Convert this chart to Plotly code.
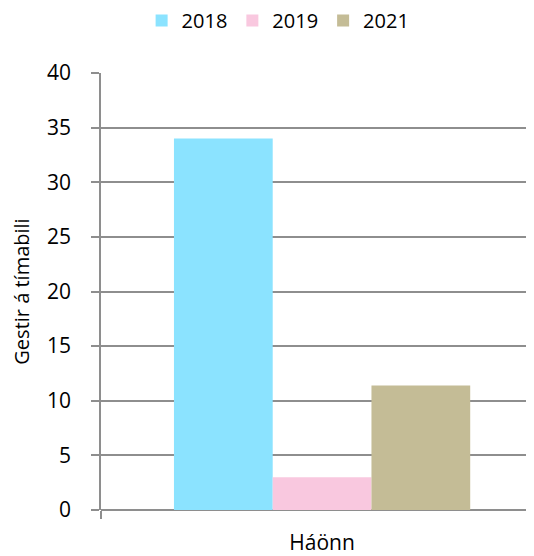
import plotly.graph_objects as go

categories = ["Háönn"]
series_names = ["2018", "2019", "2021"]
values_2018 = [34]
values_2019 = [3]
values_2021 = [11.4]
colors = ["#8BE3FF", "#F9C8DF", "#C4BC96"]
y_ticks = [0, 5, 10, 15, 20, 25, 30, 35, 40]

fig = go.Figure()
for name, vals, col in zip(series_names, [values_2018, values_2019, values_2021], colors):
    fig.add_trace(go.Bar(x=categories, y=vals, name=name, marker=dict(color=col, line=dict(width=0))))

font_family = "'Open Sans', sans-serif"
grid_col = "#8E8E8E"

fig.update_layout(
    width=526, height=556,
    margin=dict(l=93, r=1, t=65, b=54, autoexpand=False),
    plot_bgcolor="white", paper_bgcolor="white",
    barmode="group", bargap=0.33, bargroupgap=0,
    font=dict(family=font_family, size=21, color="#000000"),
    showlegend=True,
    legend=dict(orientation="h", x=0.41, xanchor="center", y=1.12, yanchor="middle",
                font=dict(size=20), itemwidth=30, traceorder="normal",
                bgcolor="rgba(0,0,0,0)"),
    xaxis=dict(
        type="category", range=[-0.5, 0.477], automargin=False,
        showline=False, showgrid=False,
        ticks="outside", tickson="boundaries", ticklen=8, tickwidth=1.5, tickcolor=grid_col,
        ticklabelstandoff=18,
        tickfont=dict(size=21),
    ),
    yaxis=dict(
        range=[0, 40], tickvals=y_ticks, automargin=False,
        showline=True, linecolor=grid_col, linewidth=1.5,
        showgrid=True, gridcolor=grid_col, gridwidth=1.5,
        zeroline=True, zerolinecolor=grid_col, zerolinewidth=1.5,
        ticks="outside", ticklen=8, tickwidth=1.5, tickcolor=grid_col,
        ticklabelstandoff=16,
        tickfont=dict(size=21),
        title=dict(text="Gestir á tímabili", font=dict(size=20), standoff=14),
    ),
)

fig.write_html("out.html")
